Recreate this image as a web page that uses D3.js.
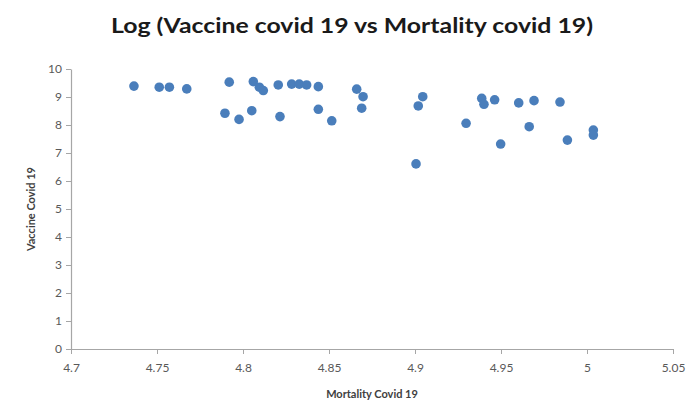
<!DOCTYPE html>
<html>
<head>
<meta charset="utf-8">
<script src="https://cdn.jsdelivr.net/npm/d3@7"></script>
<style>
  html, body { margin: 0; padding: 0; background: #fff; }
  svg { display: block; font-family: Lato, "Open Sans", sans-serif; }
</style>
</head>
<body>
<svg id="chart" width="696" height="406"></svg>
<script>
const titleText = "Log (Vaccine covid 19 vs Mortality covid 19)";
const xTitle = "Mortality Covid 19";
const yTitle = "Vaccine Covid 19";
const xTicks = [4.7, 4.75, 4.8, 4.85, 4.9, 4.95, 5, 5.05];
const yTicks = [0, 1, 2, 3, 4, 5, 6, 7, 8, 9, 10];

const mortality = [4.7366, 4.7513, 4.7572, 4.7673, 4.7895, 4.7920, 4.7977, 4.8051, 4.8060, 4.8095,
  4.8118, 4.8205, 4.8215, 4.8283, 4.8327, 4.8370, 4.8438, 4.8438, 4.8516, 4.8661,
  4.8698, 4.8690, 4.9045, 4.9019, 4.9006, 4.9297, 4.9388, 4.9401, 4.9463, 4.9498,
  4.9603, 4.9692, 4.9664, 4.9843, 4.9886, 5.0037, 5.0037];
const vaccine = [9.39, 9.35, 9.35, 9.29, 8.42, 9.53, 8.20, 8.51, 9.55, 9.35,
  9.23, 9.43, 8.30, 9.46, 9.46, 9.43, 9.37, 8.56, 8.15, 9.28,
  9.01, 8.60, 9.01, 8.68, 6.61, 8.06, 8.95, 8.74, 8.90, 7.32,
  8.79, 8.87, 7.94, 8.82, 7.46, 7.82, 7.64];

const svg = d3.select("#chart");
const x = d3.scaleLinear().domain([4.7, 5.05]).range([71, 673]);
const y = d3.scaleLinear().domain([0, 10]).range([349, 69]);

const axisColor = "#a6a6a6";
const labelColor = "#595959";

// Title
const t = svg.append("text")
  .attr("x", 352).attr("y", 33)
  .attr("text-anchor", "middle")
  .attr("font-size", 21).attr("font-weight", "bold")
  .attr("fill", "#1a1a1a")
  .text(titleText);
t.attr("textLength", 482).attr("lengthAdjust", "spacingAndGlyphs");

// Y axis
const yAxis = svg.append("g")
  .attr("transform", `translate(${x.range()[0]},0)`)
  .call(d3.axisLeft(y).tickValues(yTicks).tickFormat(d3.format("d")).tickSize(5).tickSizeOuter(0));
// X axis
const xAxis = svg.append("g")
  .attr("transform", `translate(0,${y.range()[0]})`)
  .call(d3.axisBottom(x).tickValues(xTicks).tickFormat(d => String(d)).tickSize(5).tickSizeOuter(0));

[yAxis, xAxis].forEach(g => {
  g.selectAll("path").attr("stroke", axisColor).attr("stroke-width", 1.2);
  g.selectAll("line").attr("stroke", axisColor).attr("stroke-width", 1);
  g.selectAll("text").attr("fill", labelColor).attr("font-size", 12)
    .attr("font-family", "Lato, 'Open Sans', sans-serif");
});
yAxis.selectAll("text").attr("x", -9);
xAxis.selectAll("text").attr("y", 14);

// Axis titles
svg.append("text")
  .attr("x", 372).attr("y", 398)
  .attr("text-anchor", "middle")
  .attr("font-size", 11).attr("font-weight", "bold")
  .attr("fill", "#404040")
  .text(xTitle);
svg.append("text")
  .attr("transform", "translate(35,209) rotate(-90)")
  .attr("text-anchor", "middle")
  .attr("font-size", 11).attr("font-weight", "bold")
  .attr("fill", "#404040")
  .text(yTitle);

// Points
svg.append("g").selectAll("circle")
  .data(mortality.map((m, i) => ({ m, v: vaccine[i] })))
  .join("circle")
  .attr("cx", d => x(d.m))
  .attr("cy", d => y(d.v))
  .attr("r", 4.8)
  .attr("fill", "#4a7ebb");
</script>
</body>
</html>
